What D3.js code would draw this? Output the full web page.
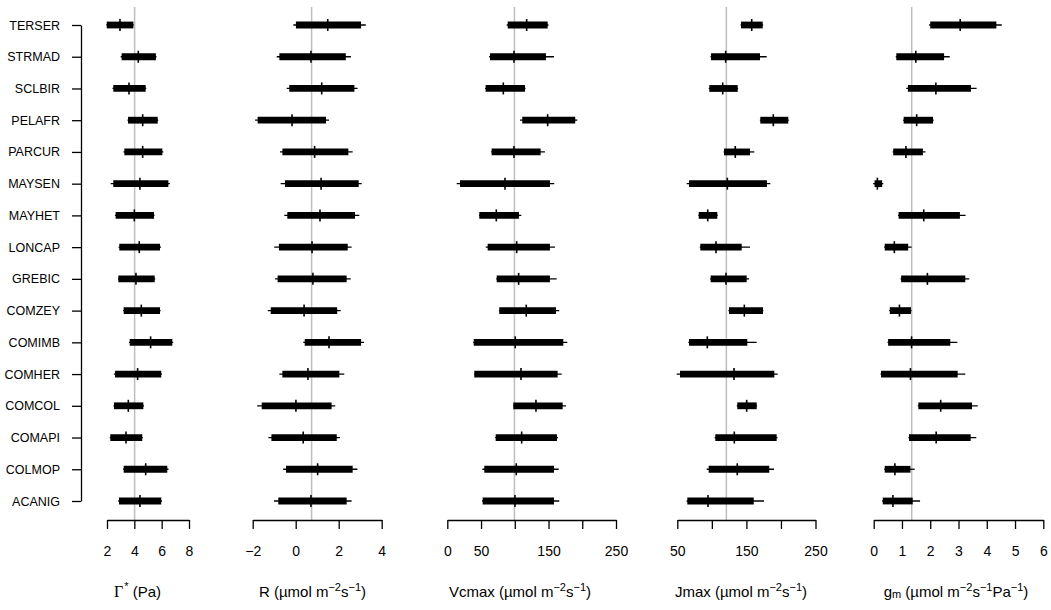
<!DOCTYPE html>
<html>
<head>
<meta charset="utf-8">
<script src="https://cdn.jsdelivr.net/npm/d3@7"></script>
<style>
  body { margin: 0; background: #fff; }
  svg text { font-family: "Liberation Sans", Arial, sans-serif; fill: #000; }
</style>
</head>
<body>
<svg id="chart" width="1051" height="610"></svg>
<script>
const species = ["TERSER","STRMAD","SCLBIR","PELAFR","PARCUR","MAYSEN","MAYHET","LONCAP","GREBIC","COMZEY","COMIMB","COMHER","COMCOL","COMAPI","COLMOP","ACANIG"];

// Gamma* (Pa)
const gammaLo95 = [1.95, 3.00, 2.40, 3.50, 3.20, 2.27, 2.58, 2.85, 2.80, 3.18, 3.62, 2.50, 2.48, 2.20, 3.18, 2.82];
const gammaLo50 = [1.98, 3.07, 2.46, 3.54, 3.27, 2.46, 2.63, 2.90, 2.83, 3.22, 3.66, 2.59, 2.51, 2.24, 3.22, 2.88];
const gammaMed  = [2.95, 4.29, 3.61, 4.61, 4.61, 4.41, 4.00, 4.36, 4.12, 4.51, 5.19, 4.24, 3.56, 3.39, 4.83, 4.41];
const gammaHi50 = [3.93, 5.58, 4.83, 5.71, 6.05, 6.49, 5.44, 5.88, 5.49, 5.88, 6.78, 5.97, 4.66, 4.58, 6.41, 5.97];
const gammaHi95 = [3.95, 5.62, 4.87, 5.75, 6.12, 6.60, 5.48, 5.95, 5.53, 5.92, 6.85, 6.02, 4.70, 4.62, 6.50, 6.02];
const gammaRef = 4.02;
const gammaTicks = [2, 4, 6, 8];

// R (umol m-2 s-1)
const rLo95 = [-0.11, -0.88, -0.42, -1.89, -0.73, -0.70, -0.53, -1.00, -0.96, -1.30, 0.35, -0.76, -1.79, -1.27, -0.58, -1.01];
const rLo50 = [0.01, -0.76, -0.30, -1.77, -0.62, -0.50, -0.39, -0.78, -0.84, -1.16, 0.42, -0.62, -1.58, -1.13, -0.45, -0.81];
const rMed  = [1.49, 0.71, 1.21, -0.17, 0.88, 1.18, 1.13, 0.76, 0.80, 0.39, 1.55, 0.57, 0.01, 0.35, 1.02, 0.71];
const rHi50 = [3.04, 2.33, 2.73, 1.41, 2.45, 2.93, 2.76, 2.42, 2.37, 1.93, 3.04, 2.03, 1.67, 1.91, 2.65, 2.37];
const rHi95 = [3.26, 2.57, 2.88, 1.55, 2.65, 3.07, 2.96, 2.60, 2.56, 2.09, 3.18, 2.26, 1.84, 2.06, 2.87, 2.60];
const rRef = 0.74;
const rTicks = [-2, 0, 2, 4];

// Vcmax
const vLo95 = [88, 62, 56, 107.7, 65, 13.9, 47, 57, 72.5, 76.5, 38.5, 39.5, 97.5, 71, 52, 51.5];
const vLo50 = [89.5, 63.3, 56.8, 111.1, 65.7, 18.8, 47.4, 59.8, 73.2, 77.0, 39.1, 40.0, 97.8, 71.7, 54.8, 52.4];
const vMed  = [117.6, 98.8, 83.0, 148.7, 98.8, 85.5, 72.6, 102.8, 105.7, 117.0, 100.7, 109.2, 131.4, 110.2, 102.2, 100.3];
const vHi50 = [148.7, 146.2, 115.1, 189.6, 138.3, 152.1, 106.2, 152.1, 152.1, 161.0, 171.9, 163.5, 171.0, 162.5, 158.1, 158.1];
const vHi95 = [150, 158.1, 116, 192.6, 144.7, 158.5, 109.6, 159.5, 162.1, 165.9, 177.8, 169.5, 175.9, 164, 165.0, 165.9];
const vRef = 99.5;
const vTicks = [0, 50, 100, 150, 200, 250];
const vLabels = ["0", "50", "", "150", "", "250"];

// Jmax
const jLo95 = [141.5, 98, 95.5, 169.5, 117, 63.6, 80.5, 82.5, 97.5, 124, 66, 49.1, 136, 104, 92.5, 63.5];
const jLo50 = [142.2, 98.8, 96.3, 170.1, 117.6, 66.9, 81.0, 83.3, 98.3, 124.8, 66.9, 53.9, 136.8, 105.0, 95.4, 64.5];
const jMed  = [157.7, 120.0, 115.7, 188.9, 133.9, 122.4, 94.0, 106.0, 120.5, 147.0, 93.4, 132.1, 150.4, 132.5, 136.8, 94.4];
const jHi50 = [173.6, 169.7, 137.4, 210.6, 155.2, 179.8, 107.9, 143.2, 150.4, 174.0, 151.3, 190.4, 164.9, 193.8, 183.1, 160.6];
const jHi95 = [174.2, 179.4, 138, 211.2, 161.4, 184.6, 108.5, 155.2, 153.8, 174.6, 164.9, 195.3, 165.5, 195, 189.9, 175.5];
const jRef = 121;
const jTicks = [50, 100, 150, 200, 250];
const jLabels = ["50", "", "150", "", "250"];

// gm
const gLo95 = [1.96, 0.78, 1.15, 1.04, 0.67, -0.02, 0.86, 0.37, 0.95, 0.55, 0.49, 0.24, 1.56, 1.23, 0.37, 0.30];
const gLo50 = [2.00, 0.80, 1.21, 1.06, 0.69, 0.03, 0.88, 0.39, 0.97, 0.57, 0.51, 0.26, 1.58, 1.25, 0.39, 0.32];
const gMed  = [3.06, 1.49, 2.20, 1.52, 1.14, 0.13, 1.77, 0.73, 1.90, 0.91, 1.34, 1.30, 2.37, 2.21, 0.75, 0.68];
const gHi50 = [4.34, 2.49, 3.44, 2.10, 1.74, 0.30, 3.05, 1.22, 3.24, 1.32, 2.71, 2.97, 3.48, 3.43, 1.30, 1.38];
const gHi95 = [4.53, 2.69, 3.64, 2.12, 1.83, 0.34, 3.25, 1.34, 3.38, 1.34, 2.96, 3.24, 3.68, 3.63, 1.45, 1.64];
const gRef = 1.345;
const gTicks = [0, 1, 2, 3, 4, 5, 6];

const svg = d3.select("#chart");
const yTop = 25, yBot = 501, axisY = 520, refTop = 7;

const y = d3.scalePoint().domain(species).range([yTop, yBot]);

// left species axis
const yAxis = svg.append("g")
  .attr("transform", "translate(81,0)")
  .call(d3.axisLeft(y).tickSize(9).tickSizeOuter(0).tickPadding(12));
yAxis.selectAll("text").style("font-size", "12.5px");
yAxis.selectAll("path,line").attr("stroke", "#000").attr("stroke-width", 1.3);

const panels = [
  { lo95: gammaLo95, lo50: gammaLo50, med: gammaMed, hi50: gammaHi50, hi95: gammaHi95, ref: gammaRef,
    domain: [2, 8], range: [107, 189], ticks: gammaTicks, labels: null, title: "gamma", tx: 137.5 },
  { lo95: rLo95, lo50: rLo50, med: rMed, hi50: rHi50, hi95: rHi95, ref: rRef,
    domain: [-2, 4], range: [252.7, 381.7], ticks: rTicks, labels: null, title: "R", tx: 312.5 },
  { lo95: vLo95, lo50: vLo50, med: vMed, hi50: vHi50, hi95: vHi95, ref: vRef,
    domain: [0, 250], range: [447.3, 616], ticks: vTicks, labels: vLabels, title: "Vcmax", tx: 520 },
  { lo95: jLo95, lo50: jLo50, med: jMed, hi50: jHi50, hi95: jHi95, ref: jRef,
    domain: [50, 250], range: [677.3, 815.5], ticks: jTicks, labels: jLabels, title: "Jmax", tx: 741 },
  { lo95: gLo95, lo50: gLo50, med: gMed, hi50: gHi50, hi95: gHi95, ref: gRef,
    domain: [0, 6], range: [873.7, 1043.3], ticks: gTicks, labels: null, title: "gm", tx: 956 }
];

panels.forEach(p => {
  const x = d3.scaleLinear().domain(p.domain).range(p.range);
  const g = svg.append("g");

  // reference line
  g.append("line")
    .attr("x1", x(p.ref)).attr("x2", x(p.ref))
    .attr("y1", refTop).attr("y2", axisY)
    .attr("stroke", "#bebebe").attr("stroke-width", 1.5);

  const rows = species.map((s, i) => ({ s, lo95: p.lo95[i], lo50: p.lo50[i], med: p.med[i], hi50: p.hi50[i], hi95: p.hi95[i] }));

  // thin whiskers
  g.selectAll(".thin").data(rows).join("line")
    .attr("x1", d => x(d.lo95)).attr("x2", d => x(d.hi95))
    .attr("y1", d => y(d.s)).attr("y2", d => y(d.s))
    .attr("stroke", "#000").attr("stroke-width", 1.3);
  // thick bars
  g.selectAll(".thick").data(rows).join("line")
    .attr("x1", d => x(d.lo50)).attr("x2", d => x(d.hi50))
    .attr("y1", d => y(d.s)).attr("y2", d => y(d.s))
    .attr("stroke", "#000").attr("stroke-width", 6.8);
  // median ticks
  g.selectAll(".med").data(rows).join("line")
    .attr("x1", d => x(d.med)).attr("x2", d => x(d.med))
    .attr("y1", d => y(d.s) - 6).attr("y2", d => y(d.s) + 6)
    .attr("stroke", "#000").attr("stroke-width", 1.6);

  // bottom axis
  const ax = d3.axisBottom(x).tickValues(p.ticks).tickSize(9).tickSizeOuter(0).tickPadding(17)
    .tickFormat((d, i) => p.labels ? p.labels[i] : d3.format("")(d).replace("-", "\u2212"));
  const axG = svg.append("g").attr("transform", `translate(0,${axisY})`).call(ax);
  axG.selectAll("text").style("font-size", "14px");
  axG.selectAll("path,line").attr("stroke", "#000").attr("stroke-width", 1.3);

  // title
  const t = svg.append("text").attr("x", p.tx).attr("y", 597)
    .attr("text-anchor", "middle").style("font-size", "15px");
  const sup = (txt) => t.append("tspan").attr("dy", "-6").style("font-size", "11px").text(txt);
  const down = (txt) => t.append("tspan").attr("dy", "6").text(txt);
  if (p.title === "gamma") {
    t.append("tspan").style("font-family", "'Liberation Serif', serif").style("font-size", "16px").text("\u0393");
    t.append("tspan").attr("dx", "1").attr("dy", "-7").style("font-size", "11px").text("*");
    t.append("tspan").attr("dy", "7").text("  (Pa)");
  } else if (p.title === "gm") {
    t.append("tspan").text("g");
    t.append("tspan").attr("dy", "1").style("font-size", "11px").text("m");
    t.append("tspan").attr("dy", "-1").text(" (\u00b5mol m");
    sup("\u22122");
    down("s");
    sup("\u22121");
    down("Pa");
    sup("\u22121");
    down(")");
  } else {
    t.append("tspan").text(p.title + " (\u00b5mol m");
    sup("\u22122");
    down("s");
    sup("\u22121");
    down(")");
  }
});
</script>
</body>
</html>
